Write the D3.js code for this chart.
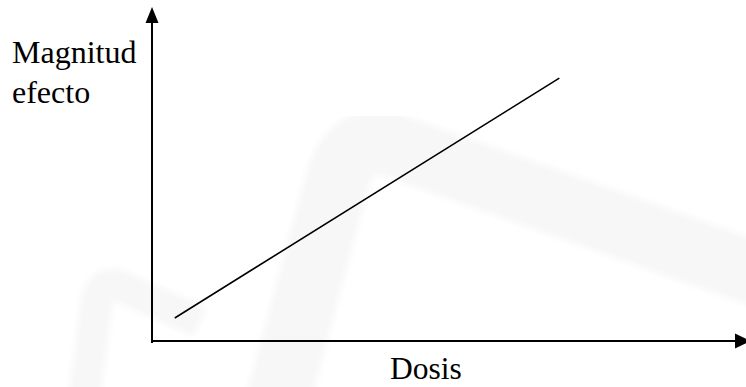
<!DOCTYPE html>
<html>
<head>
<meta charset="utf-8">
<script src="https://cdn.jsdelivr.net/npm/d3@7"></script>
<style>
  html, body { margin: 0; padding: 0; background: #fff; }
  svg { display: block; }
  text { font-family: "Liberation Serif", "Times New Roman", serif; fill: #000; }
</style>
</head>
<body>
<svg id="chart" width="746" height="387"></svg>
<script>
// Dose–effect relationship: a straight rising line
const dosis = [3.8, 68.0];
const efecto = [6.9, 78.7];
const xLabel = "Dosis";
const yLabelLines = ["Magnitud", "efecto"];

const W = 746, H = 387;
const svg = d3.select("#chart");

const x = d3.scaleLinear().domain([0, 100]).range([152, 751]);
const y = d3.scaleLinear().domain([0, 100]).range([341, 7]);

// faint background watermark bands
const defs = svg.append("defs");
defs.append("filter").attr("id", "soft")
  .append("feGaussianBlur").attr("stdDeviation", 3);
const wm = svg.append("g").attr("filter", "url(#soft)")
  .attr("fill", "none").attr("stroke", "#f7f7f7").attr("stroke-linecap", "butt");
wm.append("path")
  .attr("d", "M278,400 L338,178 Q354,128 400,148 L760,275")
  .attr("stroke-width", 64);
wm.append("path")
  .attr("d", "M84,400 L97,300 Q102,278 124,288 L200,322")
  .attr("stroke-width", 32);

// axes with arrowheads
const ax = svg.append("g").attr("stroke", "#000").attr("stroke-width", 2);
ax.append("line")
  .attr("x1", x(0)).attr("x2", x(0))
  .attr("y1", y(0) + 2).attr("y2", y(100) + 14);
ax.append("line")
  .attr("x1", x(0) - 1).attr("x2", x(100) - 14)
  .attr("y1", y(0)).attr("y2", y(0));

svg.append("path")
  .attr("d", `M${x(0)},${y(100)} L${x(0) - 6.5},${y(100) + 16} L${x(0) + 6.5},${y(100) + 16} Z`)
  .attr("fill", "#000");
svg.append("path")
  .attr("d", `M${x(100)},${y(0)} L${x(100) - 16},${y(0) - 7.5} L${x(100) - 16},${y(0) + 7.5} Z`)
  .attr("fill", "#000");

// dose–effect line
const pts = dosis.map((d, i) => [d, efecto[i]]);
svg.append("path")
  .datum(pts)
  .attr("fill", "none")
  .attr("stroke", "#000")
  .attr("stroke-width", 1.6)
  .attr("d", d3.line().x(d => x(d[0])).y(d => y(d[1])));

// labels
const yl = svg.append("text").attr("x", 12).attr("y", 63).style("font-size", "32px");
yLabelLines.forEach((t, i) => {
  yl.append("tspan").attr("x", 12).attr("dy", i === 0 ? 0 : 39.5).text(t);
});
svg.append("text")
  .attr("x", 426).attr("y", 379)
  .attr("text-anchor", "middle")
  .style("font-size", "31.5px")
  .text(xLabel);
</script>
</body>
</html>
